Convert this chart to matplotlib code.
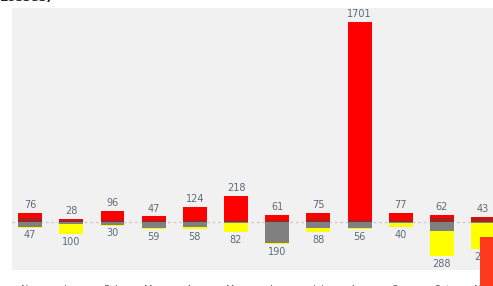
import numpy as np
import matplotlib.pyplot as plt
from matplotlib.patches import Rectangle

# Data (labels at the bottom are cut off, months assumed)
months = ["Nov", "Jan", "Feb", "Mar", "Apr", "May", "Jun", "Jul", "Aug", "Sep", "Oct", "Nov"]
gain_main = [46, 14, 80, 30, 110, 200, 40, 50, 1680, 60, 30, 10]
gain_small = [30, 14, 16, 17, 14, 18, 21, 25, 21, 17, 32, 33]
loss_gray = [40, 15, 25, 55, 40, 10, 180, 50, 50, 10, 80, 5]
loss_yellow = [7, 85, 5, 4, 18, 72, 10, 38, 6, 30, 208, 225]
gain_total = [76, 28, 96, 47, 124, 218, 61, 75, 1701, 77, 62, 43]
loss_total = [47, 100, 30, 59, 58, 82, 190, 88, 56, 40, 288, 230]

W, H = 493, 286
fig = plt.figure(figsize=(W / 100, H / 100), dpi=100)
fig.patch.set_facecolor("white")

# axes: left edge at 12px, top at 8px, bottom at 270px, runs past the right edge
ax = fig.add_axes([12 / W, 1 - 270 / H, 1 - 12 / W, (270 - 8) / H])
ax.set_facecolor("#f1f1f1")
x = np.arange(len(months))
ax.set_xlim(-0.44, 11.24)
ax.set_ylim(-408, 1820)

bw = 0.58
ax.axhline(0, color="#dcc6c6", lw=1, ls=(0, (2, 2)), zorder=1)
ax.bar(x, gain_small, bw, color="#a82020", zorder=2)
ax.bar(x, gain_main, bw, bottom=gain_small, color="#ff0000", zorder=2)
ax.bar(x, [-v for v in loss_gray], bw, color="#808080", zorder=2)
ax.bar(x, [-v for v in loss_yellow], bw, bottom=[-v for v in loss_gray],
       color="#ffff00", zorder=2)

for i in x:
    ax.text(i, gain_total[i] + 25, str(gain_total[i]), ha="center", va="bottom",
            fontsize=7, color="#5d6b78")
    ax.text(i, -loss_total[i] - 25, str(loss_total[i]), ha="center", va="top",
            fontsize=7, color="#5d6b78")

for s in ax.spines.values():
    s.set_visible(False)
ax.set_yticks([])
ax.set_xticks(x)
ax.set_xticklabels(months, fontsize=7, color="#666666")
ax.tick_params(axis="x", length=0, pad=11)

# cut-off title at the top left
fig.text(0.0, 1 - 4 / H, "Losses)", fontsize=9, fontweight="bold", color="#222222",
         ha="left", va="bottom")

# red block overlapping the bottom right corner
fig.patches.append(Rectangle((480 / W, 0), 13 / W, 49 / H, transform=fig.transFigure,
                             facecolor="#ff3a1c", edgecolor="none", zorder=5))

fig.savefig("out.png", dpi=100)
